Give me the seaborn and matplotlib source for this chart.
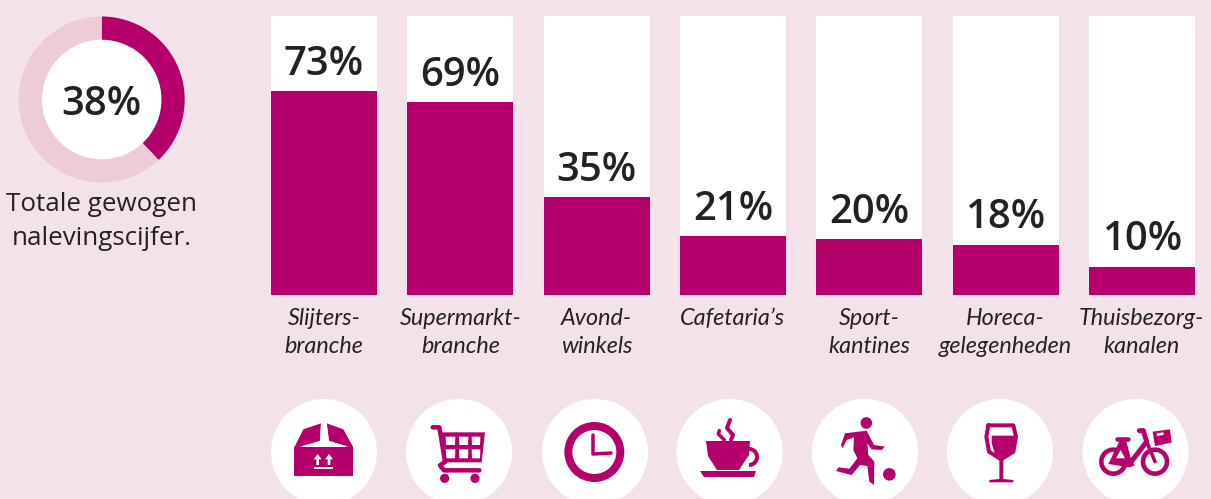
import numpy as np
import matplotlib
matplotlib.use("Agg")
import matplotlib.pyplot as plt
from matplotlib.patches import Circle, Polygon, Wedge
import seaborn as sns

categories = ["Slijters-\nbranche", "Supermarkt-\nbranche", "Avond-\nwinkels", "Cafetaria’s",
              "Sport-\nkantines", "Horeca-\ngelegenheden", "Thuisbezorg-\nkanalen"]
values = [73, 69, 35, 21, 20, 18, 10]
full_scale = [100] * 7
total_share = [38, 62]
total_label = "38%"
total_caption = "Totale gewogen\nnalevingscijfer."

MAG = "#B5006B"
BG = "#F4E2EB"
RING = "#EDCBD9"
INK = "#222222"
W, H = 1211, 499

sns.set_theme(style="white")
plt.rcParams["font.family"] = ["Open Sans", "DejaVu Sans"]

fig = plt.figure(figsize=(W / 100, H / 100), dpi=100, facecolor=BG)


def px_axes(l, t, r, b, **kw):
    return fig.add_axes([l / W, 1 - b / H, (r - l) / W, (b - t) / H], **kw)


# ---- bars
ax = px_axes(255.8, 16, 1210, 295)
ax.set_facecolor("none")
sns.barplot(x=categories, y=full_scale, color="white", saturation=1, width=0.7775, linewidth=0, ax=ax)
sns.barplot(x=categories, y=values, color=MAG, saturation=1, width=0.7775, linewidth=0, ax=ax)
ax.set_ylim(0, 100)
ax.set_xlim(-0.5, 6.5)
ax.set_yticks([])
ax.set_ylabel("")
sns.despine(ax=ax, left=True, bottom=True)
ax.tick_params(axis="x", length=0, pad=9.5)
for lab in ax.get_xticklabels():
    lab.set_fontfamily("Lato")
    lab.set_fontstyle("italic")
    lab.set_fontsize(16.8)
    lab.set_color(INK)
    lab.set_linespacing(1.38)
for i, v in enumerate(values):
    ax.annotate(f"{v}%", (i, v), xytext=(0, 12), textcoords="offset points", ha="center",
                va="baseline", fontsize=28.8, fontweight=600, color=INK, fontfamily="Open Sans")

# ---- donut
dax = px_axes(18.7, 16.5, 184.7, 182.5)
dax.pie(total_share, colors=[MAG, RING], startangle=90, counterclock=False, radius=1,
        wedgeprops={"linewidth": 0})
dax.set_xlim(-1, 1)
dax.set_ylim(-1, 1)
dax.add_patch(Circle((0, 0), 0.72, fc="white", ec="none"))
dax.text(0, -0.065, total_label, ha="center", va="center", fontsize=28.8, fontweight=600, color=INK)

# ---- overlay (captions + icons), in pixel units
ov = fig.add_axes([0, 0, 1, 1], facecolor="none")
ov.set_xlim(0, W)
ov.set_ylim(H, 0)
ov.axis("off")
ov.text(101.5, 204.5, total_caption.split("\n")[0], ha="center", va="center", fontsize=18.7,
        fontfamily="Open Sans", color=INK)
ov.text(101.5, 238.5, total_caption.split("\n")[1], ha="center", va="center", fontsize=18.7,
        fontfamily="Open Sans", color=INK)

for cx in [324, 459, 595, 729.5, 865, 1000, 1135.5]:
    ov.add_patch(Circle((cx, 452), 53, fc="white", ec="none"))


def z1(p):
    return [(x / 3 + 260, y / 3 + 390) for x, y in p]


def z2(p):
    return [(x / 3 + 730, y / 3 + 390) for x, y in p]


def poly(p, c=MAG):
    ov.add_patch(Polygon(p, closed=True, fc=c, ec="none"))


def line(p, w, c=MAG):
    a = np.array(p)
    ov.plot(a[:, 0], a[:, 1], color=c, lw=w * 0.72, solid_capstyle="round", solid_joinstyle="round")


def disc(p, r, c=MAG):
    ov.add_patch(Circle(p, r, fc=c, ec="none"))


# box
poly(z1([(103, 172), (280, 172), (280, 257), (103, 257)]))
poly(z1([(103, 172), (130, 118), (183, 100), (180, 152), (118, 172)]))
poly(z1([(200, 100), (250, 118), (280, 172), (265, 172), (207, 152)]))
poly(z1([(183, 100), (200, 100), (207, 155), (180, 155)]), "white")
poly(z1([(118, 170), (180, 154), (208, 154), (268, 170), (200, 160), (185, 160)]), "white")
for x in (173, 207):
    poly(z1([(x, 192), (x + 12, 208), (x + 4, 208), (x + 4, 225), (x - 4, 225), (x - 4, 208), (x - 12, 208)]), "white")
poly(z1([(162, 232), (220, 232), (220, 238), (162, 238)]), "white")

# cart
line(z1([(518, 112), (538, 112), (555, 215)]), 4.5)
poly(z1([(540, 127), (675, 127), (665, 217), (552, 217)]))
for (a, b) in [(140, 165), (178, 205)]:
    for (l, r) in [(557, 586), (597, 625), (635, 661)]:
        poly(z1([(l, a), (r, a), (r - 1, b), (l + 1, b)]), "white")
line(z1([(556, 215), (540, 226), (552, 241), (658, 241)]), 4.5)
disc(z1([(554, 265)])[0], 4.6)
disc(z1([(645, 265)])[0], 4.6)

# clock
cc = z1([(1003, 186)])[0]
disc(cc, 30)
disc(cc, 22, "white")
line(z1([(999, 135), (999, 192), (1053, 189)]), 3.5)

# cup
poly([(706, 441), (750, 441), (749, 455), (739, 470), (717, 470), (708, 456)])
ov.add_patch(Wedge((749, 457), 10, -120, 90, width=4, fc=MAG, ec="none"))
poly([(700, 471), (756, 471), (754, 477), (704, 477)])
line(z1([(1378, 122), (1375, 132), (1393, 150)]), 3.5)
line([(730, 420), (727, 428), (733, 435), (731, 440)], 4)

# runner
disc(z2([(409, 99)])[0], 5.8)
disc(z2([(478, 253)])[0], 6.3)
poly(z2([(345, 130), (410, 122), (432, 165), (465, 170), (455, 180), (425, 178), (412, 160),
         (415, 195), (433, 215), (432, 285), (418, 275), (412, 228), (390, 225), (365, 255),
         (318, 243), (325, 232), (358, 236), (382, 205), (370, 180), (372, 142), (350, 150),
         (338, 175), (333, 165)]))

# wine glass
line(z2([(775, 106), (850, 106), (858, 140), (850, 185), (813, 208), (777, 185), (769, 140), (775, 106)]), 4)
poly(z2([(785, 137), (858, 137), (850, 185), (815, 205), (795, 192), (785, 160)]))
poly(z2([(808, 205), (820, 205), (820, 267), (850, 270), (850, 277), (778, 277), (778, 270), (808, 267)]))

# bike
for c in [(1150, 215), (1275, 215)]:
    cp = (c[0] / 3 + 730, c[1] / 3 + 390)
    ov.add_patch(Wedge(cp, 14.3, 0, 360, width=4.6, fc=MAG, ec="none"))
line(z2([(1160, 148), (1195, 148)]), 4.5)
poly(z2([(1170, 150), (1188, 150), (1205, 215), (1215, 225), (1200, 232), (1135, 222)]))
poly(z2([(1172, 180), (1185, 205), (1158, 205)]), "white")
line(z2([(1200, 220), (1250, 155), (1240, 122), (1228, 122)]), 5)
line(z2([(1250, 155), (1275, 215)]), 3.5)
poly(z2([(1268, 125), (1320, 118), (1325, 158), (1275, 168)]))
poly(z2([(1280, 130), (1300, 127), (1301, 135), (1281, 138)]), "white")

fig.savefig("out.png", dpi=100, facecolor=BG)
